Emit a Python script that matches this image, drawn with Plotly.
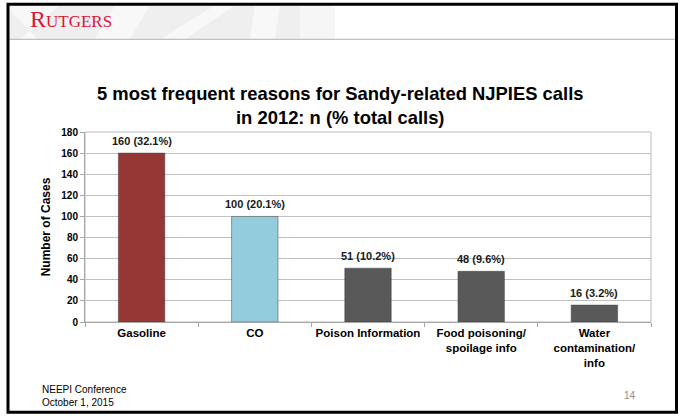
import plotly.graph_objects as go

# Data
categories = ["Gasoline", "CO", "Poison Information",
              "Food poisoning/<br>spoilage info", "Water<br>contamination/<br>info"]
cases = [160, 100, 51, 48, 16]
pct_total = [32.1, 20.1, 10.2, 9.6, 3.2]
bar_colors = ["#953735", "#93CDDD", "#595959", "#595959", "#595959"]
y_ticks = list(range(0, 181, 20))

W, H = 683, 419
L, R, T, B = 85, 651, 131.7, 321.7  # plot area in pixels

def px(x):
    return (x - L) / (R - L)

def py(y):
    return (B - y) / (B - T)

FONT = "Arial, Liberation Sans, sans-serif"

fig = go.Figure()
fig.add_trace(go.Bar(
    x=categories, y=cases,
    marker=dict(color=bar_colors, line=dict(color="rgba(60,60,60,0.6)", width=0.8)),
    width=0.41, hoverinfo="skip",
))

# value labels above bars
for c, v, p in zip(categories, cases, pct_total):
    fig.add_annotation(x=c, y=v, text=f"<b>{v} ({p}%)</b>", showarrow=False,
                       yanchor="bottom", yshift=4,
                       font=dict(size=11, color="#1a1a1a", family=FONT))

shapes = []
# header watermark band
shapes.append(dict(type="rect", xref="paper", yref="paper",
                   x0=px(9), x1=px(330), y0=py(39), y1=py(5),
                   fillcolor="#efefef", line=dict(width=0), layer="below"))
for (a, b, c, d) in [(20, 38, 60, 5), (95, 130, 115, 150), (160, 185, 215, 235),
                     (250, 275, 255, 280)]:
    shapes.append(dict(type="path", xref="paper", yref="paper",
                       path=f"M{px(a)},{py(39)} L{px(b)},{py(39)} L{px(d)},{py(5)} L{px(c)},{py(5)} Z",
                       fillcolor="#f8f8f8", line=dict(width=0), layer="below"))
shapes.append(dict(type="rect", xref="paper", yref="paper",
                   x0=px(300), x1=px(335), y0=py(39), y1=py(5),
                   fillcolor="#f6f6f6", line=dict(width=0), layer="below"))
# header rule
shapes.append(dict(type="line", xref="paper", yref="paper",
                   x0=px(9), x1=px(676), y0=py(39), y1=py(39),
                   line=dict(color="#c0c0c0", width=1.2)))
# slide border
shapes.append(dict(type="rect", xref="paper", yref="paper",
                   x0=px(8), x1=px(676.5), y0=py(412), y1=py(4),
                   line=dict(color="#000000", width=3)))
# plot-area frame
shapes.append(dict(type="rect", xref="paper", yref="paper",
                   x0=0, x1=1, y0=0, y1=1,
                   line=dict(color="#b8b8c4", width=1), layer="below"))

annotations = [
    dict(x=px(28), y=py(19), xref="paper", yref="paper", xanchor="left", yanchor="middle",
         showarrow=False,
         text="<span style='font-size:24px'>R</span>UTGERS",
         font=dict(family="Liberation Serif, Times New Roman, serif", size=17, color="#DA1638")),
    dict(x=px(340), y=py(105), xref="paper", yref="paper", xanchor="center", yanchor="middle",
         showarrow=False,
         text="<b>5 most frequent reasons for Sandy-related NJPIES calls<br>in 2012: n (% total calls)</b>",
         font=dict(family=FONT, size=18.4, color="#000000")),
    dict(x=px(40), y=py(389), xref="paper", yref="paper", xanchor="left", yanchor="middle",
         showarrow=False, text="NEEPI Conference",
         font=dict(family=FONT, size=10, color="#000000")),
    dict(x=px(40), y=py(402), xref="paper", yref="paper", xanchor="left", yanchor="middle",
         showarrow=False, text="October 1, 2015",
         font=dict(family=FONT, size=10, color="#000000")),
    dict(x=px(630), y=py(395), xref="paper", yref="paper", xanchor="center", yanchor="middle",
         showarrow=False, text="14",
         font=dict(family=FONT, size=10, color="#8c8c8c")),
]
for a in annotations:
    fig.add_annotation(**a)

fig.update_layout(
    width=W, height=H,
    margin=dict(l=L, r=W - R, t=T, b=H - B, pad=0),
    paper_bgcolor="white", plot_bgcolor="white",
    showlegend=False,
    bargap=0.59,
    shapes=shapes,
    font=dict(family=FONT, color="#000000"),
    xaxis=dict(
        type="category", showgrid=False, showline=True, linecolor="#a6a6a6", linewidth=1,
        ticks="outside", tickson="boundaries", ticklen=4, tickcolor="#a6a6a6",
        tickfont=dict(size=11.5), tickangle=0,
    ),
    yaxis=dict(
        range=[0, 180], tickvals=y_ticks, showgrid=True, gridcolor="#bfbfbf", gridwidth=1,
        showline=True, linecolor="#a6a6a6", linewidth=1, ticks="outside", ticklen=4,
        tickcolor="#a6a6a6", zeroline=False,
        tickfont=dict(size=10),
        title=dict(text="<b>Number of Cases</b>", font=dict(size=12), standoff=8),
    ),
)
fig.update_xaxes(ticktext=[f"<b>{c}</b>" for c in categories], tickvals=categories)
fig.update_yaxes(ticktext=[f"<b>{t}</b>" for t in y_ticks])

fig.write_html("out.html")
